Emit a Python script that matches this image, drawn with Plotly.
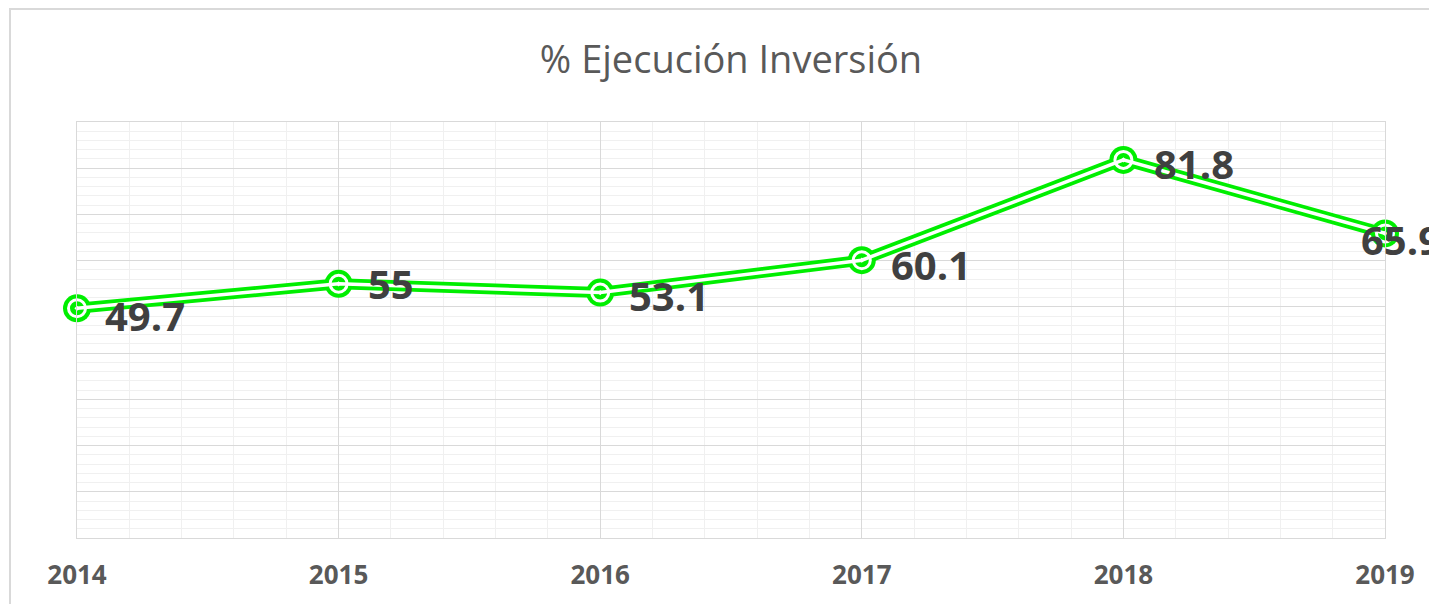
import plotly.graph_objects as go

# % ejecucion inversion por año
years = [2014, 2015, 2016, 2017, 2018, 2019]
pct = [49.7, 55, 53.1, 60.1, 81.8, 65.9]
labels = ["49.7", "55", "53.1", "60.1", "81.8", "65.9"]

green = "#00ee00"

fig = go.Figure()

# double line look: thick green under a thin white line
fig.add_trace(go.Scatter(x=years, y=pct, mode='lines+markers',
                         line=dict(color=green, width=11),
                         marker=dict(symbol='circle', size=28, color=green),
                         cliponaxis=False, hoverinfo='skip', showlegend=False))
fig.add_trace(go.Scatter(x=years, y=pct, mode='lines+markers',
                         line=dict(color='white', width=3.5),
                         marker=dict(symbol='circle-open-dot', size=17,
                                     color='white', line=dict(width=3, color='white')),
                         cliponaxis=False, hoverinfo='skip', showlegend=False))

# data labels
shifts = [(26, -7), (27, 0), (27, -3), (27, -4), (29, -4), (-26, -6)]
for x, y, t, (dx, dy) in zip(years, pct, labels, shifts):
    fig.add_annotation(x=x, y=y, text=t, showarrow=False, xanchor='left',
                       xshift=dx, yshift=dy,
                       font=dict(family="Open Sans", size=40, color="#404040", weight="bold"))

# page is drawn 8px in from the window edge, margins compensate
fig.update_layout(
    width=1437, height=604,
    margin=dict(l=69, r=60, t=114, b=74),
    paper_bgcolor='white', plot_bgcolor='white',
    title=dict(text="% Ejecución Inversión", x=(731 - 8) / 1437, xanchor='center',
               y=1 - 52 / 604, yanchor='middle',
               font=dict(family="Open Sans", size=38, color="#595959")),
    xaxis=dict(range=[2014, 2019], dtick=1, tick0=2014, showgrid=True,
               gridcolor='#d9d9d9', gridwidth=1,
               minor=dict(dtick=0.2, showgrid=True, gridcolor='#f0f0f0'),
               showline=True, linecolor='#d9d9d9', mirror=True, zeroline=False,
               ticklabelstandoff=14,
               tickfont=dict(family="Open Sans", size=26, color="#595959", weight="bold")),
    yaxis=dict(range=[0, 90], dtick=10, showgrid=True, gridcolor='#d9d9d9',
               minor=dict(dtick=2, showgrid=True, gridcolor='#f0f0f0'),
               showline=True, linecolor='#d9d9d9', mirror=True, zeroline=False,
               showticklabels=False),
)

# outer chart border (partially cut off like the original)
fig.add_shape(type='rect', xref='paper', yref='paper',
              x0=(10 - 77) / 1308, x1=(1460 - 77) / 1308,
              y0=-(630 - 538) / 416, y1=1 + (122 - 9) / 416,
              line=dict(color='#d9d9d9', width=2), layer='below')

fig.write_html("out.html")
